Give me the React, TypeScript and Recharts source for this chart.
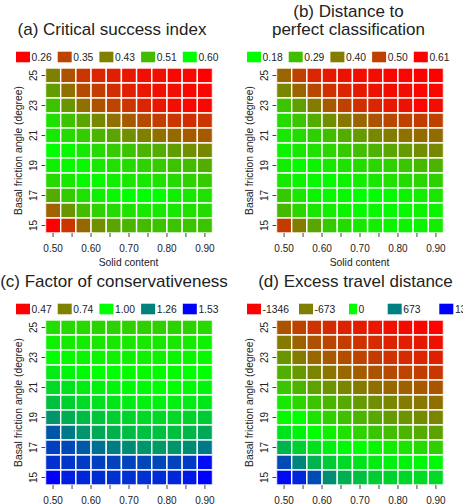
import React from 'react';
import { ScatterChart, Scatter, XAxis, YAxis } from 'recharts';

// Grid coordinates
const solidContent = [0.5, 0.54, 0.58, 0.62, 0.66, 0.7, 0.74, 0.78, 0.82, 0.86, 0.9];
const frictionAngle = [25, 24, 23, 22, 21, 20, 19, 18, 17, 16, 15];
const xTicks = [0.5, 0.55, 0.6, 0.65, 0.7, 0.75, 0.8, 0.85, 0.9];
const yTicks = [15, 17, 19, 21, 23, 25];

// (a) Critical success index, rows from 25 down to 15 degrees
const csiRows = [
  [0.43, 0.37, 0.33, 0.31, 0.3, 0.29, 0.28, 0.28, 0.27, 0.27, 0.26],
  [0.47, 0.41, 0.36, 0.34, 0.32, 0.3, 0.29, 0.28, 0.28, 0.27, 0.27],
  [0.52, 0.46, 0.41, 0.37, 0.35, 0.33, 0.31, 0.29, 0.28, 0.27, 0.27],
  [0.56, 0.52, 0.48, 0.44, 0.41, 0.38, 0.36, 0.34, 0.33, 0.32, 0.33],
  [0.57, 0.55, 0.53, 0.5, 0.48, 0.45, 0.43, 0.41, 0.4, 0.38, 0.38],
  [0.6, 0.59, 0.57, 0.55, 0.53, 0.52, 0.5, 0.49, 0.47, 0.45, 0.44],
  [0.58, 0.59, 0.59, 0.57, 0.56, 0.55, 0.54, 0.53, 0.52, 0.51, 0.49],
  [0.55, 0.57, 0.59, 0.59, 0.58, 0.57, 0.57, 0.56, 0.55, 0.54, 0.53],
  [0.49, 0.53, 0.56, 0.58, 0.59, 0.6, 0.6, 0.6, 0.58, 0.57, 0.56],
  [0.39, 0.46, 0.51, 0.54, 0.55, 0.56, 0.57, 0.57, 0.57, 0.56, 0.55],
  [0.26, 0.33, 0.4, 0.45, 0.48, 0.5, 0.51, 0.52, 0.52, 0.52, 0.52],
];
const csiLegend = [0.26, 0.35, 0.43, 0.51, 0.6];

// (b) Distance to perfect classification
const distRows = [
  [0.44, 0.5, 0.55, 0.57, 0.58, 0.59, 0.59, 0.6, 0.6, 0.61, 0.61],
  [0.38, 0.44, 0.49, 0.53, 0.55, 0.57, 0.58, 0.59, 0.59, 0.6, 0.6],
  [0.28, 0.34, 0.4, 0.46, 0.5, 0.53, 0.55, 0.57, 0.58, 0.6, 0.59],
  [0.24, 0.28, 0.32, 0.37, 0.41, 0.44, 0.47, 0.49, 0.5, 0.51, 0.5],
  [0.22, 0.24, 0.26, 0.29, 0.32, 0.35, 0.38, 0.4, 0.42, 0.43, 0.43],
  [0.2, 0.22, 0.23, 0.25, 0.27, 0.29, 0.31, 0.33, 0.35, 0.37, 0.38],
  [0.21, 0.19, 0.2, 0.22, 0.23, 0.24, 0.25, 0.26, 0.28, 0.3, 0.31],
  [0.22, 0.2, 0.19, 0.19, 0.2, 0.21, 0.22, 0.23, 0.24, 0.25, 0.26],
  [0.27, 0.22, 0.2, 0.19, 0.19, 0.18, 0.18, 0.19, 0.2, 0.21, 0.22],
  [0.3, 0.25, 0.22, 0.21, 0.2, 0.19, 0.19, 0.19, 0.19, 0.2, 0.2],
  [0.51, 0.4, 0.33, 0.27, 0.24, 0.22, 0.21, 0.2, 0.2, 0.2, 0.21],
];
const distLegend = [0.18, 0.29, 0.4, 0.5, 0.61];

// (c) Factor of conservativeness
const focRows = [
  [0.93, 0.92, 0.92, 0.91, 0.91, 0.9, 0.9, 0.9, 0.91, 0.91, 0.92],
  [0.97, 0.96, 0.96, 0.95, 0.95, 0.95, 0.95, 0.95, 0.95, 0.96, 0.97],
  [1.0, 0.99, 0.98, 0.98, 0.97, 0.97, 0.97, 0.97, 0.98, 0.98, 0.99],
  [1.04, 1.02, 1.01, 1.0, 1.0, 0.99, 0.99, 0.99, 0.99, 1.0, 1.0],
  [1.08, 1.06, 1.04, 1.03, 1.02, 1.01, 1.01, 1.0, 1.0, 1.01, 1.02],
  [1.13, 1.1, 1.08, 1.06, 1.05, 1.04, 1.03, 1.03, 1.03, 1.04, 1.05],
  [1.22, 1.17, 1.14, 1.12, 1.1, 1.09, 1.08, 1.08, 1.08, 1.09, 1.11],
  [1.35, 1.28, 1.22, 1.18, 1.16, 1.14, 1.13, 1.13, 1.13, 1.15, 1.18],
  [1.4, 1.38, 1.34, 1.3, 1.27, 1.24, 1.22, 1.21, 1.22, 1.24, 1.28],
  [1.43, 1.42, 1.41, 1.4, 1.39, 1.39, 1.38, 1.38, 1.39, 1.41, 1.5],
  [1.53, 1.47, 1.45, 1.44, 1.43, 1.43, 1.43, 1.44, 1.45, 1.48, 1.53],
];
const focLegend = [0.47, 0.74, 1.0, 1.26, 1.53];

// (d) Excess travel distance
const excessRows = [
  [-900, -1000, -1080, -1120, -1160, -1200, -1230, -1260, -1290, -1310, -1340],
  [-700, -830, -920, -980, -1030, -1080, -1120, -1160, -1190, -1220, -1250],
  [-560, -700, -800, -880, -940, -990, -1040, -1080, -1120, -1150, -1180],
  [-420, -540, -650, -730, -800, -860, -910, -950, -990, -1020, -1050],
  [-300, -400, -490, -570, -640, -700, -760, -800, -840, -870, -900],
  [-120, -220, -310, -390, -460, -530, -590, -640, -690, -720, -760],
  [-30, 0, -150, -250, -330, -400, -460, -520, -570, -610, -650],
  [150, 60, 0, -80, -160, -230, -300, -350, -400, -450, -490],
  [400, 250, 150, 80, 30, 0, -50, -100, -150, -200, -250],
  [950, 650, 400, 280, 200, 150, 100, 80, 60, 40, 30],
  [1300, 1150, 950, 600, 420, 330, 270, 240, 220, 200, 200],
];
const excessLegend = [-1346, -673, 0, 673, 1346];

// Colour ramps (linear RGB blends)
const clamp = (t: number) => Math.max(0, Math.min(1, t));
const rgb = (r: number, g: number, b: number) =>
  `rgb(${Math.round(r)},${Math.round(g)},${Math.round(b)})`;
const redToGreen = (lo: number, hi: number) => (v: number) => {
  const t = clamp((v - lo) / (hi - lo));
  return rgb(255 * (1 - t), 255 * t, 0);
};
const greenToRed = (lo: number, hi: number) => (v: number) => {
  const t = clamp((v - lo) / (hi - lo));
  return rgb(255 * t, 255 * (1 - t), 0);
};
const redGreenBlue = (lo: number, mid: number, hi: number) => (v: number) => {
  if (v <= mid) return redToGreen(lo, mid)(v);
  const t = clamp((v - mid) / (hi - mid));
  return rgb(0, 255 * (1 - t), 255 * t);
};

const FONT = '"Liberation Sans", Arial, Helvetica, sans-serif';
const INK = '#222';
const PANEL_W = 232;
const PANEL_H = 252;
const MARGIN = { top: 68, right: 19.5, bottom: 0, left: 0 };
const Y_AXIS_W = 45.5;
const X_AXIS_H = 19;
const X_DOMAIN: [number, number] = [0.48, 0.92];
const Y_DOMAIN: [number, number] = [14.5, 25.5];
const X_STEP = 0.04;
const Y_STEP = 1;
const PLOT_W = PANEL_W - MARGIN.left - MARGIN.right - Y_AXIS_W;
const PLOT_H = PANEL_H - MARGIN.top - MARGIN.bottom - X_AXIS_H;
const CELL_W = (PLOT_W * X_STEP) / (X_DOMAIN[1] - X_DOMAIN[0]);
const CELL_H = (PLOT_H * Y_STEP) / (Y_DOMAIN[1] - Y_DOMAIN[0]);

const XTick = (props: any) => {
  const { x, y, payload } = props;
  const v = payload.value as number;
  const show = Math.round(v * 100) % 10 === 0;
  if (!show) return null;
  return (
    <text x={x} y={y} dy={14.5} textAnchor="middle" fontSize={10} fontFamily={FONT} fill={INK}>
      {v.toFixed(2)}
    </text>
  );
};

const YTick = (props: any) => {
  const { x, y, payload } = props;
  return (
    <text
      x={x}
      y={y}
      dy={-5}
      transform={`rotate(-90 ${x} ${y})`}
      textAnchor="middle"
      fontSize={10}
      fontFamily={FONT}
      fill={INK}
    >
      {payload.value}
    </text>
  );
};

type PanelProps = {
  left: number;
  top: number;
  rows: number[][];
  color: (v: number) => string;
  titleLines: string[];
  titleX: number;
  legendValues: number[];
  legendLabels: string[];
  legendBoxX: number[];
  legendBoxW?: number[];
  showXTitle: boolean;
};

function Panel(p: PanelProps) {
  const data = p.rows.flatMap((row, i) =>
    row.map((v, j) => ({ x: solidContent[j], y: frictionAngle[i], v }))
  );
  const renderCell = (s: any) => (
    <rect
      x={s.cx - CELL_W / 2}
      y={s.cy - CELL_H / 2}
      width={CELL_W}
      height={CELL_H}
      fill={p.color(s.payload.v)}
      stroke="#ffffff"
      strokeWidth={1.4}
    />
  );
  const titleBase = 35;
  return (
    <div style={{ position: 'absolute', left: p.left, top: p.top, width: PANEL_W, height: PANEL_H }}>
      <ScatterChart width={PANEL_W} height={PANEL_H} margin={MARGIN}>
        <XAxis
          type="number"
          dataKey="x"
          domain={X_DOMAIN}
          ticks={xTicks}
          interval={0}
          height={X_AXIS_H}
          axisLine={false}
          tickSize={4}
          tickMargin={0}
          tickLine={{ stroke: '#444', strokeWidth: 1 }}
          tick={<XTick />}
          allowDataOverflow
        />
        <YAxis
          type="number"
          dataKey="y"
          domain={Y_DOMAIN}
          ticks={yTicks}
          interval={0}
          width={Y_AXIS_W}
          axisLine={false}
          tickSize={4}
          tickMargin={0}
          tickLine={{ stroke: '#444', strokeWidth: 1 }}
          tick={<YTick />}
          allowDataOverflow
        />
        <Scatter data={data} shape={renderCell} isAnimationActive={false} />
      </ScatterChart>
      <svg
        width={PANEL_W}
        height={PANEL_H}
        style={{ position: 'absolute', left: 0, top: 0, pointerEvents: 'none', overflow: 'visible' }}
        fontFamily={FONT}
      >
        {p.titleLines.map((t, i) => (
          <text
            key={t}
            x={p.titleX}
            y={titleBase - (p.titleLines.length - 1 - i) * 18.5}
            textAnchor="middle"
            fontSize={17}
            fill={INK}
          >
            {t}
          </text>
        ))}
        {p.legendValues.map((v, i) => {
          const bx = p.legendBoxX[i];
          const bw = p.legendBoxW ? p.legendBoxW[i] : 14;
          return (
            <g key={i}>
              <rect x={bx} y={51.7} width={bw} height={10.6} fill={p.color(v)} />
              <text x={bx + bw + 1.6} y={60.5} fontSize={10.3} fill={INK}>
                {p.legendLabels[i]}
              </text>
            </g>
          );
        })}
        <text
          transform="translate(22 150.5) rotate(-90)"
          textAnchor="middle"
          fontSize={10.3}
          fill={INK}
        >
          Basal friction angle (degree)
        </text>
        {p.showXTitle && (
          <text x={128.5} y={266} textAnchor="middle" fontSize={10.3} fill={INK}>
            Solid content
          </text>
        )}
      </svg>
    </div>
  );
}

const evenBoxes = [16, 57.7, 99.4, 141.1, 182.8];

export default function App() {
  return (
    <div
      style={{
        position: 'absolute',
        left: 0,
        top: 0,
        width: 463,
        height: 504,
        overflow: 'hidden',
        background: '#fff',
      }}
    >
      <Panel
        left={0}
        top={0}
        rows={csiRows}
        color={redToGreen(0.26, 0.6)}
        titleLines={['(a) Critical success index']}
        titleX={112}
        legendValues={csiLegend}
        legendLabels={csiLegend.map((v) => v.toFixed(2))}
        legendBoxX={evenBoxes}
        showXTitle
      />
      <Panel
        left={231}
        top={0}
        rows={distRows}
        color={greenToRed(0.18, 0.61)}
        titleLines={['(b) Distance to', 'perfect classification']}
        titleX={117.5}
        legendValues={distLegend}
        legendLabels={distLegend.map((v) => v.toFixed(2))}
        legendBoxX={evenBoxes}
        showXTitle
      />
      <Panel
        left={0}
        top={252}
        rows={focRows}
        color={redGreenBlue(0.47, 1.0, 1.53)}
        titleLines={['(c) Factor of conservativeness']}
        titleX={114}
        legendValues={focLegend}
        legendLabels={focLegend.map((v) => v.toFixed(2))}
        legendBoxX={evenBoxes}
        showXTitle={false}
      />
      <Panel
        left={231}
        top={252}
        rows={excessRows}
        color={redGreenBlue(-1346, 0, 1346)}
        titleLines={['(d) Excess travel distance']}
        titleX={124.5}
        legendValues={excessLegend}
        legendLabels={excessLegend.map((v) => String(v))}
        legendBoxX={[16, 68, 118, 156.7, 208.3]}
        legendBoxW={[14, 14, 8, 14, 14]}
        showXTitle={false}
      />
    </div>
  );
}
